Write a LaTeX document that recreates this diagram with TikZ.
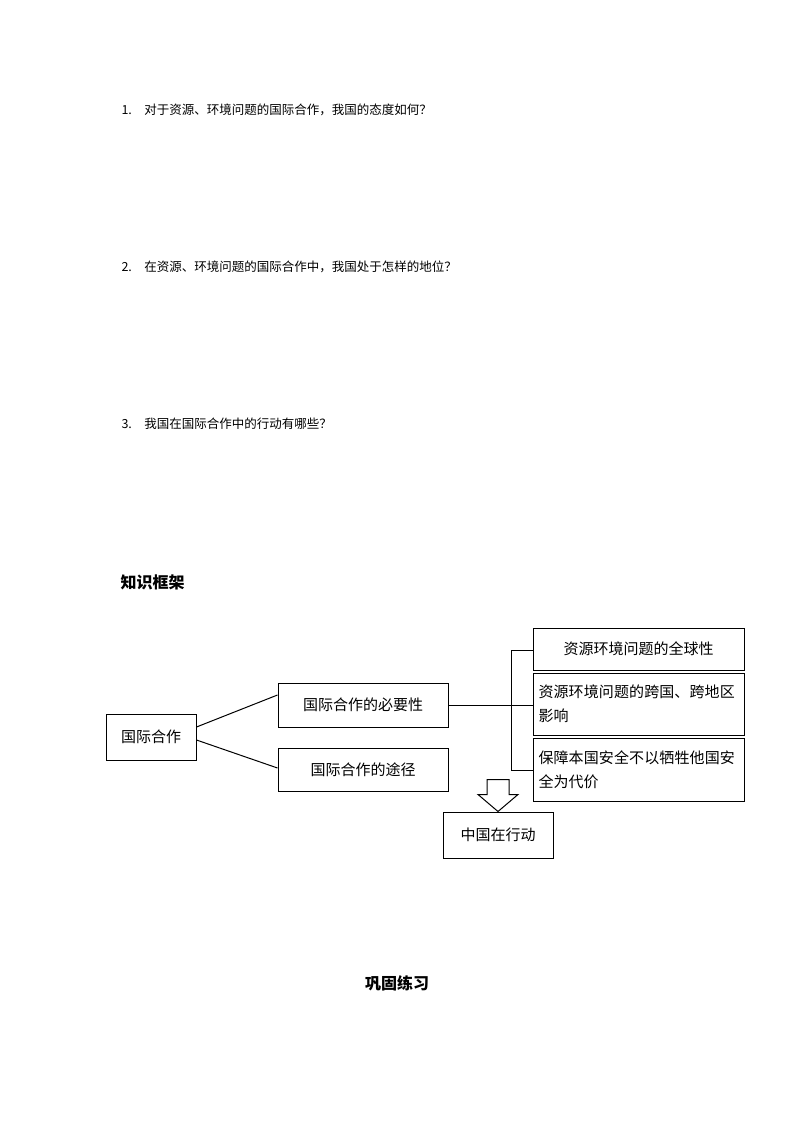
\documentclass[tikz,border=0pt]{standalone}
\usepackage{fontspec}
\setmainfont{Liberation Serif}
\newfontfamily\cjk{Noto Sans CJK SC}
\XeTeXlinebreaklocale "zh"
\XeTeXlinebreakskip = 0pt plus 1pt
\usetikzlibrary{positioning}
\tikzset{box/.style={draw, line width=1pt, align=left, inner sep=0pt, font=\cjk\fontsize{15}{24}\selectfont}}
\tikzset{question/.style={anchor=west, font=\cjk\fontsize{12.5}{15}\selectfont}}
\tikzset{heading/.style={font=\cjk\bfseries\fontsize{16}{19}\selectfont}}
\tikzset{link/.style={line width=1pt}}
\begin{document}
\begin{tikzpicture}[x=1pt, y=-1pt]
\useasboundingbox (0,0) rectangle (794,1123);
\node[question] (q1) at (118,110) {1.\hspace{1em}对于资源、环境问题的国际合作，我国的态度如何？};
\node[question] (q2) at (118,267) {2.\hspace{1em}在资源、环境问题的国际合作中，我国处于怎样的地位？};
\node[question] (q3) at (118,424) {3.\hspace{1em}我国在国际合作中的行动有哪些？};
\node[heading, anchor=west] (frame) at (117,582) {知识框架};

\node[box, minimum width=90pt, minimum height=46pt, align=center] (coop) at (151,737) {国际合作};
\node[box, minimum width=170pt, minimum height=44pt, align=center] (need) at (363,705) {国际合作的必要性};
\node[box, minimum width=170pt, minimum height=43pt, align=center] (way) at (363,770) {国际合作的途径};
\node[box, minimum width=211pt, minimum height=42pt, align=center] (global) at (638.5,649) {资源环境问题的全球性};
\node[box, minimum width=211pt, minimum height=62pt, text width=200pt] (cross) at (638.5,704) {资源环境问题的跨国、跨地区影响};
\node[box, minimum width=211pt, minimum height=63pt, text width=200pt] (safe) at (638.5,769.5) {保障本国安全不以牺牲他国安全为代价};
\node[box, minimum width=110pt, minimum height=46pt, align=center] (china) at (498,835) {中国在行动};

\coordinate (btop) at (511,650);
\coordinate (bbot) at (511,770);
\coordinate (bmid) at (511,705);

\draw[link] (coop.east|-0,727) -- (need.west|-0,695);
\draw[link] (coop.east|-0,740) -- (way.west|-0,768);
\draw[link] (need.east) -- (cross.west|-bmid);
\draw[link] (global.west|-btop) -- (btop) -- (bbot) -- (safe.west|-bbot);
\draw[link, fill=white] (china.north) -- ++(-20,-17) -- ++(9,0) -- ++(0,-15) -- ++(22,0) -- ++(0,15) -- ++(9,0) -- cycle;
\node[heading] (practice) at (397,983) {巩固练习};
\end{tikzpicture}
\end{document}
